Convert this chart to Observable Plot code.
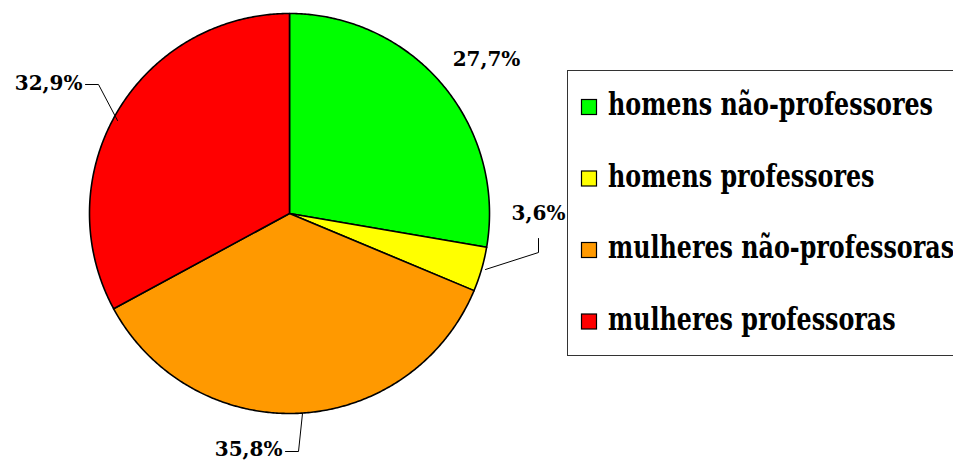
<!DOCTYPE html>
<html>
<head>
<meta charset="utf-8">
<script src="https://cdn.jsdelivr.net/npm/d3@7"></script>
<script src="https://cdn.jsdelivr.net/npm/@observablehq/plot@0.6"></script>
<style>
  html, body { margin: 0; padding: 0; background: #fff; }
  #wrap { position: relative; width: 953px; height: 463px; overflow: hidden; }
  #legend { position: absolute; left: 0; top: 0; }
</style>
</head>
<body>
<div id="wrap"></div>
<script>
// ---- data ----
const categories = ["homens não-professores", "homens professores", "mulheres não-professoras", "mulheres professoras"];
const values = [27.7, 3.6, 35.8, 32.9];
const valueLabels = ["27,7%", "3,6%", "35,8%", "32,9%"];
const colors = ["#00ff00", "#ffff00", "#ff9900", "#ff0000"];

// ---- layout (label anchor positions in pie units, radius = 1) ----
const labelPos = [
  {x: 0.985, y: 0.74, anchor: "middle"},
  {x: 1.245, y: -0.03, anchor: "middle"},
  {x: -0.035, y: -1.21, anchor: "end"},
  {x: -1.035, y: 0.62, anchor: "end"}
];
const leaders = [
  null,
  [[0.98, -0.28], [1.245, -0.195], [1.245, -0.125]],
  [[0.065, -1.0], [0.045, -1.19], [-0.02, -1.19]],
  [[-0.86, 0.465], [-0.955, 0.645], [-1.02, 0.645]]
];

// build slice outlines from cumulative shares
const total = d3.sum(values);
const slicePts = [];
let cum = 0;
values.forEach((v, i) => {
  const a0 = cum / total * 2 * Math.PI;
  cum += v;
  const a1 = cum / total * 2 * Math.PI;
  const n = Math.max(2, Math.ceil((a1 - a0) / (Math.PI / 360)));
  slicePts.push({k: i, x: 0, y: 0, c: colors[i]});
  for (let j = 0; j <= n; j++) {
    const a = a0 + (a1 - a0) * j / n;
    slicePts.push({k: i, x: Math.sin(a), y: Math.cos(a), c: colors[i]});
  }
});

const leaderPts = [];
leaders.forEach((l, i) => { if (l) l.forEach(p => leaderPts.push({k: i, x: p[0], y: p[1]})); });

const labelData = valueLabels.map((t, i) => ({t, ...labelPos[i]}));

const font = "'DejaVu Serif', serif";

const chart = Plot.plot({
  width: 953,
  height: 463,
  marginLeft: 89,
  marginRight: 464,
  marginTop: 13,
  marginBottom: 50,
  x: {domain: [-1, 1], axis: null},
  y: {domain: [-1, 1], axis: null},
  color: {type: "identity"},
  style: {fontFamily: font, background: "#fff"},
  marks: [
    Plot.line(slicePts, {x: "x", y: "y", z: "k", fill: "c", stroke: "#000", strokeWidth: 1.6, curve: "linear-closed", strokeLinejoin: "round"}),
    Plot.line(leaderPts, {x: "x", y: "y", z: "k", stroke: "#000", strokeWidth: 1}),
    Plot.text(labelData.filter(d => d.anchor === "middle"), {x: "x", y: "y", text: "t", textAnchor: "middle", lineAnchor: "bottom", fontSize: 20, fontWeight: "bold", fill: "#000"}),
    Plot.text(labelData.filter(d => d.anchor === "end"), {x: "x", y: "y", text: "t", textAnchor: "end", lineAnchor: "bottom", fontSize: 20, fontWeight: "bold", fill: "#000"})
  ]
});
document.getElementById("wrap").appendChild(chart);

// ---- legend overlay ----
const legendFontSize = 31;
const ctx = document.createElement("canvas").getContext("2d");
ctx.font = `bold ${legendFontSize}px 'DejaVu Serif'`;
const sx = 325 / ctx.measureText(categories[0]).width;

const svg = d3.select("#wrap").append("svg")
  .attr("id", "legend").attr("width", 953).attr("height", 463);
svg.append("rect").attr("x", 567.5).attr("y", 70.5).attr("width", 420).attr("height", 285)
  .attr("fill", "#fff").attr("stroke", "#333").attr("stroke-width", 1);
categories.forEach((c, i) => {
  const cy = 107 + i * 71.5;
  svg.append("rect").attr("x", 581.5).attr("y", cy - 7.5).attr("width", 15).attr("height", 15)
    .attr("fill", colors[i]).attr("stroke", "#000").attr("stroke-width", 1.2);
  svg.append("text")
    .attr("transform", `translate(608,${cy + 8}) scale(${sx},1)`)
    .attr("font-family", font).attr("font-weight", "bold").attr("font-size", legendFontSize)
    .attr("fill", "#000").text(c);
});
</script>
</body>
</html>
